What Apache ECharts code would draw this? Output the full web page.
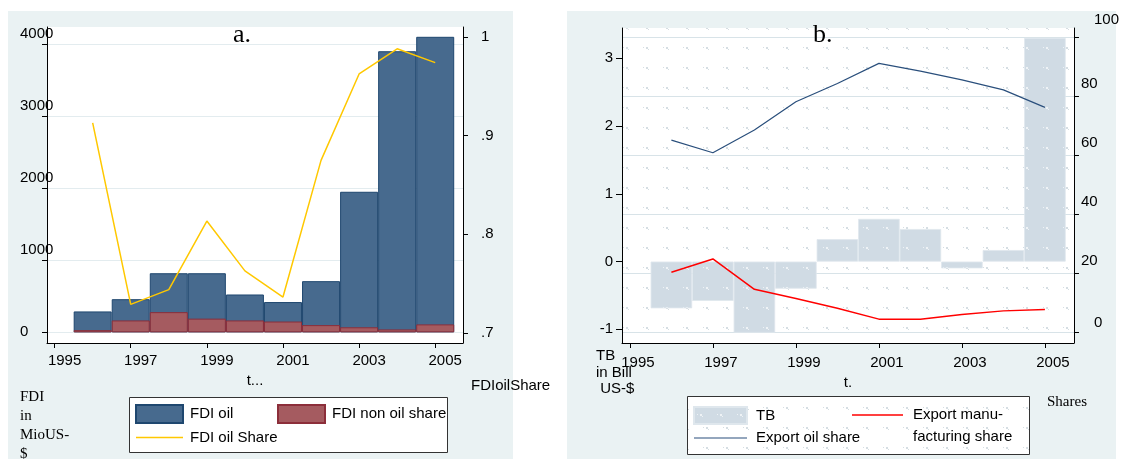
<!DOCTYPE html>
<html>
<head>
<meta charset="utf-8">
<script src="https://cdn.jsdelivr.net/npm/echarts@6/dist/echarts.min.js"></script>
<style>
html,body{margin:0;padding:0;background:#fff;}
#chart{width:1122px;height:459px;}
</style>
</head>
<body>
<div id="chart"></div>
<script>
// ---- data ----
const years = [1996, 1997, 1998, 1999, 2000, 2001, 2002, 2003, 2004, 2005];
const fdiOil = [290, 460, 820, 820, 525, 420, 710, 1950, 3900, 4100];
const fdiNonOilShare = [30, 165, 280, 190, 165, 150, 100, 70, 40, 110];
const fdiOilShareLine = [0.913, 0.729, 0.744, 0.8135, 0.763, 0.7365, 0.875, 0.9625, 0.988, 0.974];
const tradeBalance = [-0.69, -0.58, -1.05, -0.40, 0.33, 0.63, 0.48, -0.10, 0.17, 3.30];
const exportOilShare = [65.3, 61.0, 68.7, 78.3, 84.5, 91.3, 88.7, 85.7, 82.3, 76.4];
const exportManuShare = [20.5, 25.0, 14.7, 11.6, 8.3, 4.6, 4.6, 6.2, 7.4, 7.9];
const yearTicks = [1995, 1997, 1999, 2001, 2003, 2005];
const fdiTicks = [0, 1000, 2000, 3000, 4000];
const shareTicksA = [0.7, 0.8, 0.9, 1];
const tbTicks = [-1, 0, 1, 2, 3];
const shareTicksB = [0, 20, 40, 60, 80, 100];

const pair = (xs, ys) => xs.map((x, i) => [x, ys[i]]);

function makePattern(bg, mark) {
  const c = document.createElement('canvas');
  c.width = 20; c.height = 20;
  const ctx = c.getContext('2d');
  ctx.fillStyle = bg; ctx.fillRect(0, 0, 20, 20);
  ctx.fillStyle = mark;
  ctx.fillRect(3, 7, 1, 1);
  ctx.fillRect(6, 7, 2, 2);
  ctx.fillRect(8, 9, 1, 1);
  return { image: c, repeat: 'repeat' };
}
const bgPattern = makePattern('#ffffff', '#d6dee3');
const barPattern = makePattern('#d0dbe4', '#eef2f5');

const SANS = 'Liberation Sans';
const SERIF = 'Liberation Serif';
const PANEL = '#eaf2f3';

const chart = echarts.init(document.getElementById('chart'), null, { renderer: 'canvas' });

const legendText = (pl) => ({ fontSize: 15, fontFamily: SANS, color: '#000', padding: [0, 0, 0, pl] });

const option = {
  animation: false,
  backgroundColor: '#ffffff',
  textStyle: { fontFamily: SANS },
  graphic: [
    { type: 'rect', z: -100, shape: { x: 8, y: 11, width: 505, height: 448 }, style: { fill: PANEL } },
    { type: 'rect', z: -100, shape: { x: 567, y: 11, width: 549, height: 448 }, style: { fill: PANEL } },
    { type: 'rect', z: -90, shape: { x: 47, y: 27, width: 416, height: 316 }, style: { fill: '#ffffff' } },
    { type: 'rect', z: -90, shape: { x: 622, y: 28, width: 453, height: 315 }, style: { fill: bgPattern } },
    { type: 'rect', z: 3, shape: { x: 129.5, y: 397.5, width: 318, height: 55 }, style: { fill: '#ffffff', stroke: '#333', lineWidth: 1 } },
    { type: 'rect', z: 3, shape: { x: 687.5, y: 396.5, width: 342, height: 58 }, style: { fill: bgPattern, stroke: '#333', lineWidth: 1 } },
    { type: 'text', z: 100, x: 233, y: 22, style: { text: 'a.', font: '26px ' + SERIF, fill: '#000' } },
    { type: 'text', z: 100, x: 813, y: 22, style: { text: 'b.', font: '26px ' + SERIF, fill: '#000' } },
    { type: 'text', z: 100, x: 471, y: 378, style: { text: 'FDIoilShare', font: '15px ' + SANS, fill: '#000' } },
    { type: 'text', z: 100, x: 20, y: 388, style: { text: 'FDI\nin\nMioUS-\n$', font: '15px ' + SERIF, lineHeight: 19, fill: '#000' } },
    { type: 'text', z: 100, x: 596, y: 348, style: { text: 'TB\nin Bill\n US-$', font: '15px ' + SANS, lineHeight: 16.5, fill: '#000' } },
    { type: 'text', z: 100, x: 1047, y: 395, style: { text: 'Shares', font: '15px ' + SERIF, fill: '#000' } }
  ],
  grid: [
    { left: 47, top: 27, width: 416, height: 316, show: false },
    { left: 622, top: 28, width: 453, height: 315, show: false }
  ],
  xAxis: [
    {
      gridIndex: 0, type: 'value', min: 1994.80, max: 2005.73,
      name: 't...', nameLocation: 'middle', nameGap: 30,
      nameTextStyle: { fontSize: 15, fontFamily: SANS, color: '#000' },
      axisLine: { show: true, onZero: false, lineStyle: { color: '#000', width: 1 } },
      axisTick: { show: true, length: 5, customValues: yearTicks, lineStyle: { color: '#000' } },
      axisLabel: { customValues: yearTicks, fontSize: 15, fontFamily: SANS, color: '#000', margin: 10, padding: [0, 0, 0, 20], formatter: v => String(v) },
      splitLine: { show: false }
    },
    {
      gridIndex: 1, type: 'value', min: 1994.81, max: 2005.70,
      name: 't.', nameLocation: 'middle', nameGap: 27,
      nameTextStyle: { fontSize: 15, fontFamily: SANS, color: '#000' },
      axisLine: { show: true, onZero: false, lineStyle: { color: '#000', width: 1 } },
      axisTick: { show: true, length: 5, customValues: yearTicks, lineStyle: { color: '#000' } },
      axisLabel: { customValues: yearTicks, fontSize: 15, fontFamily: SANS, color: '#000', margin: 12, padding: [0, 0, 0, 16], formatter: v => String(v) },
      splitLine: { show: false }
    }
  ],
  yAxis: [
    {
      gridIndex: 0, type: 'value', position: 'left', min: -148, max: 4236,
      axisLine: { show: true, onZero: false, lineStyle: { color: '#000', width: 1 } },
      axisTick: { show: true, length: 5, customValues: fdiTicks, lineStyle: { color: '#000' } },
      axisLabel: {
        customValues: fdiTicks, align: 'left', margin: 27, color: '#000', fontSize: 15, fontFamily: SANS,
        formatter: v => (v === 0 ? '{z|0}' : '{u|' + v + '}'),
        rich: {
          u: { fontSize: 15, fontFamily: SANS, color: '#000', padding: [0, 0, 20, 0] },
          z: { fontSize: 15, fontFamily: SANS, color: '#000' }
        }
      },
      splitLine: { show: true, lineStyle: { color: '#e3ecef', width: 1 } }
    },
    {
      gridIndex: 0, type: 'value', position: 'right', min: 0.6899, max: 1.0101,
      axisLine: { show: true, onZero: false, lineStyle: { color: '#000', width: 1 } },
      axisTick: { show: true, length: 5, customValues: shareTicksA, lineStyle: { color: '#000' } },
      axisLabel: {
        customValues: shareTicksA, margin: 18, color: '#000', fontSize: 15, fontFamily: SANS,
        formatter: v => (v === 1 ? '1' : '.' + Math.round(v * 10))
      },
      splitLine: { show: false }
    },
    {
      gridIndex: 1, type: 'value', position: 'left', min: -1.202, max: 3.447,
      axisLine: { show: true, onZero: false, lineStyle: { color: '#000', width: 1 } },
      axisTick: { show: true, length: 6, customValues: tbTicks, lineStyle: { color: '#000' } },
      axisLabel: { customValues: tbTicks, margin: 9, color: '#000', fontSize: 15, fontFamily: SANS, formatter: v => String(v) },
      splitLine: { show: false }
    },
    {
      gridIndex: 1, type: 'value', position: 'right', min: -3.49, max: 103.29,
      axisLine: { show: true, onZero: false, lineStyle: { color: '#000', width: 1 } },
      axisTick: { show: true, length: 5, customValues: shareTicksB, lineStyle: { color: '#000' } },
      axisLabel: {
        customValues: shareTicksB, align: 'left', margin: 7, color: '#000', fontSize: 15, fontFamily: SANS,
        formatter: v => (v === 0 ? '{z|0}' : v === 100 ? '{h|100}' : '{u|' + v + '}'),
        rich: {
          u: { fontSize: 15, fontFamily: SANS, color: '#000', padding: [0, 0, 26, 0] },
          z: { fontSize: 15, fontFamily: SANS, color: '#000', padding: [0, 0, 20, 13] },
          h: { fontSize: 15, fontFamily: SANS, color: '#000', padding: [0, 0, 36, 13] }
        }
      },
      splitLine: { show: true, lineStyle: { color: '#d8e3e8', width: 1.2 } }
    }
  ],
  legend: [
    {
      left: 135, top: 404, orient: 'vertical', padding: 0, itemGap: 6, itemWidth: 47, itemHeight: 18,
      symbolKeepAspect: true, textStyle: legendText(2), selectedMode: false,
      data: [
        { name: 'FDI oil', icon: 'rect' },
        { name: 'FDI oil Share', icon: 'path://M0,0H62V2H0Z' }
      ]
    },
    {
      left: 277, top: 404, orient: 'vertical', padding: 0, itemWidth: 47, itemHeight: 18,
      symbolKeepAspect: true, textStyle: legendText(2), selectedMode: false,
      data: [{ name: 'FDI non oil share', icon: 'rect' }]
    },
    {
      left: 693, top: 406, orient: 'vertical', padding: 0, itemGap: 5.5, itemWidth: 53, itemHeight: 17,
      symbolKeepAspect: true, textStyle: legendText(4), selectedMode: false,
      data: [
        { name: 'TB', icon: 'rect' },
        { name: 'Export oil share', icon: 'path://M0,0H88V2H0Z' }
      ]
    },
    {
      left: 852, top: 382, orient: 'vertical', padding: 0, itemWidth: 51, itemHeight: 17,
      symbolKeepAspect: true, selectedMode: false,
      textStyle: { fontSize: 15, fontFamily: SANS, color: '#000', lineHeight: 22, padding: [0, 0, 0, 5] },
      formatter: name => ' \n' + name,
      data: [{ name: 'Export manu-\nfacturing share', icon: 'path://M0,0H68V2H0Z' }]
    }
  ],
  series: [
    {
      name: 'FDI oil', type: 'bar', xAxisIndex: 0, yAxisIndex: 0, barWidth: 38, barGap: '-100%',
      itemStyle: { color: '#476a8e', borderColor: '#1f476f', borderWidth: 1 },
      data: pair(years, fdiOil)
    },
    {
      name: 'FDI non oil share', type: 'bar', xAxisIndex: 0, yAxisIndex: 0, barWidth: 38, barGap: '-100%',
      itemStyle: { color: '#a55b60', borderColor: '#8c2e3a', borderWidth: 1 },
      data: pair(years, fdiNonOilShare)
    },
    {
      name: 'FDI oil Share', type: 'line', xAxisIndex: 0, yAxisIndex: 1, symbol: 'none', z: 5,
      lineStyle: { color: '#ffc800', width: 1.5 }, itemStyle: { color: '#ffc800' },
      data: pair(years, fdiOilShareLine)
    },
    {
      name: 'TB', type: 'bar', xAxisIndex: 1, yAxisIndex: 2, barWidth: 41.5,
      itemStyle: { color: barPattern, borderColor: '#dfe7ed', borderWidth: 0.8 },
      data: pair(years, tradeBalance)
    },
    {
      name: 'Export oil share', type: 'line', xAxisIndex: 1, yAxisIndex: 3, symbol: 'none', z: 5,
      lineStyle: { color: '#2a4f7c', width: 1.2 }, itemStyle: { color: '#2a4f7c' },
      data: pair(years, exportOilShare)
    },
    {
      name: 'Export manu-\nfacturing share', type: 'line', xAxisIndex: 1, yAxisIndex: 3, symbol: 'none', z: 5,
      lineStyle: { color: '#ff0000', width: 1.5 }, itemStyle: { color: '#ff0000' },
      data: pair(years, exportManuShare)
    }
  ]
};
chart.setOption(option);
</script>
</body>
</html>
